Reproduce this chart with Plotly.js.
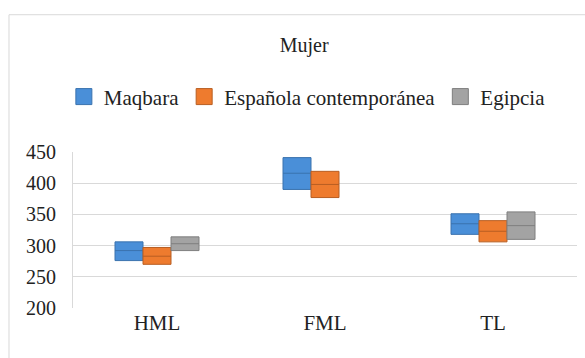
<!DOCTYPE html>
<html>
<head>
<meta charset="utf-8">
<script src="https://cdn.plot.ly/plotly-3.0.1.min.js"></script>
<style>html,body{margin:0;padding:0;background:#fff;}#chart{width:585px;height:358px;}</style>
</head>
<body>
<div id="chart"></div>
<script>
const categories = ['HML', 'FML', 'TL'];
const seriesNames = ['Maqbara', 'Española contemporánea', 'Egipcia'];

const maqbaraX = ['HML', 'FML', 'TL'];
const maqbaraQ1 = [276, 390, 318];
const maqbaraMed = [292, 416, 335];
const maqbaraQ3 = [306, 441, 351];

const espanolaX = ['HML', 'FML', 'TL'];
const espanolaQ1 = [270, 377, 306];
const espanolaMed = [283, 398, 323];
const espanolaQ3 = [297, 419, 340];

const egipciaX = ['HML', 'TL'];
const egipciaQ1 = [292, 310];
const egipciaMed = [303, 332];
const egipciaQ3 = [314, 354];

const yTicks = [200, 250, 300, 350, 400, 450];

const FONT = 'Liberation Serif, Times New Roman, serif';
const fills = ['#4A8FD8', '#EE7B2E', '#A3A3A3'];
const lines = ['#3A72AE', '#B85E22', '#7E7E7E'];

function boxTrace(i, x, q1, med, q3) {
  return {
    type: 'box', name: seriesNames[i], x: x, legendgroup: 'g' + i, showlegend: false,
    q1: q1, median: med, q3: q3, lowerfence: q1, upperfence: q3,
    fillcolor: fills[i], line: {color: lines[i], width: 1},
    whiskerwidth: 0, boxpoints: false, hoverinfo: 'skip'
  };
}
function legendTrace(i) {
  return {
    type: 'scatter', mode: 'markers', name: seriesNames[i], legendgroup: 'g' + i,
    x: [null], y: [null],
    marker: {symbol: 'square', size: 16, color: fills[i], line: {color: lines[i], width: 1}},
    hoverinfo: 'skip'
  };
}

const data = [
  boxTrace(0, maqbaraX, maqbaraQ1, maqbaraMed, maqbaraQ3),
  boxTrace(1, espanolaX, espanolaQ1, espanolaMed, espanolaQ3),
  boxTrace(2, egipciaX, egipciaQ1, egipciaMed, egipciaQ3),
  legendTrace(0), legendTrace(1), legendTrace(2)
];

const layout = {
  width: 585, height: 358,
  margin: {l: 73, r: 8, t: 152, b: 50},
  paper_bgcolor: '#fff', plot_bgcolor: '#fff',
  font: {family: FONT, color: '#222', size: 19},
  title: {text: 'Mujer', x: 0.52, xanchor: 'center', y: 0.875, yanchor: 'middle', font: {family: FONT, size: 20, color: '#222'}},
  boxmode: 'group', boxgap: 0.5, boxgroupgap: 0,
  showlegend: true,
  legend: {orientation: 'h', x: 0.465, xanchor: 'center', y: 1.353, yanchor: 'middle',
    font: {family: FONT, size: 21, color: '#222'}, itemwidth: 30, traceorder: 'normal'},
  xaxis: {type: 'category', categoryorder: 'array', categoryarray: categories,
    showgrid: false, showline: false, ticks: '', tickfont: {family: FONT, size: 21, color: '#222'}, fixedrange: true},
  yaxis: {range: [200, 450], tickvals: yTicks, ticktext: yTicks.map(String),
    showgrid: true, gridcolor: '#D9D9D9', gridwidth: 1, zeroline: false,
    showline: true, linecolor: '#D9D9D9', ticks: '', tickfont: {family: FONT, size: 20, color: '#222'},
    ticklabelstandoff: 12, fixedrange: true},
  shapes: [{type: 'rect', xref: 'paper', yref: 'paper', x0: -0.127, x1: 1.03, y0: -0.4, y1: 1.88,
    line: {color: '#D9D9D9', width: 1}, fillcolor: 'rgba(0,0,0,0)', layer: 'below'}]
};

Plotly.newPlot('chart', data, layout, {displayModeBar: false, staticPlot: true});
</script>
</body>
</html>
